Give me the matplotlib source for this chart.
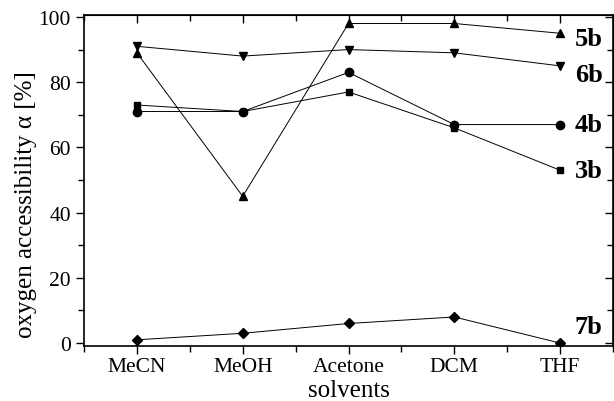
"""
Oxygen accessibility per solvent
"""
import matplotlib
matplotlib.use("Agg")
import matplotlib.pyplot as plt
from matplotlib.ticker import MultipleLocator

solvents = ["MeCN", "MeOH", "Acetone", "DCM", "THF"]
series_names = ["5b", "6b", "4b", "3b", "7b"]
vals_5b = [89, 45, 98, 98, 95]
vals_6b = [91, 88, 90, 89, 85]
vals_4b = [71, 71, 83, 67, 67]
vals_3b = [73, 71, 77, 66, 53]
vals_7b = [1, 3, 6, 8, 0]

plt.rcParams['font.family'] = ['Liberation Serif', 'DejaVu Serif']

fig = plt.figure(figsize=(6.14, 4.02), dpi=100)
ax = fig.add_axes([84 / 614, 55 / 402, 529 / 614, 331 / 402])

x = list(range(len(solvents)))
styles = [("^", 6), ("v", 6), ("o", 6), ("s", 5), ("D", 5)]
all_vals = [vals_5b, vals_6b, vals_4b, vals_3b, vals_7b]
label_y = [93.5, 82.5, 67, 53, 5]

for vals, (mk, ms), name, ly in zip(all_vals, styles, series_names, label_y):
    ax.plot(x, vals, color='black', linewidth=0.7, marker=mk, markersize=ms)
    ax.text(4.14, ly, name, fontsize=19, fontweight='bold', va='center', ha='left')

ax.set_xlim(-0.5, 4.5)
ax.set_ylim(-0.9, 100.6)
ax.set_xticks(x)
ax.set_xticklabels(solvents)
ax.xaxis.set_minor_locator(MultipleLocator(0.5))
ax.yaxis.set_major_locator(MultipleLocator(20))
ax.yaxis.set_minor_locator(MultipleLocator(10))

for side in ['left', 'bottom', 'top', 'right']:
    ax.spines[side].set_linewidth(1.2)

ax.tick_params(axis='both', which='both', labelsize=15.5, width=1.0)
ax.tick_params(axis='both', which='major', length=6)
ax.tick_params(axis='both', which='minor', length=4)
ax.tick_params(axis='x', which='both', direction='out', top=False, pad=2)
ax.tick_params(axis='y', which='both', direction='out', right=False)

# inward ticks on top and right via secondary axes
ax_top = ax.secondary_xaxis('top')
ax_top.set_xticks(x)
ax_top.xaxis.set_minor_locator(MultipleLocator(0.5))
ax_top.tick_params(which='both', direction='in', labeltop=False, width=1.0)
ax_top.tick_params(which='major', length=6)
ax_top.tick_params(which='minor', length=4)

ax_right = ax.secondary_yaxis('right')
ax_right.yaxis.set_major_locator(MultipleLocator(20))
ax_right.yaxis.set_minor_locator(MultipleLocator(10))
ax_right.tick_params(which='both', direction='in', labelright=False, width=1.0)
ax_right.tick_params(which='major', length=6)
ax_right.tick_params(which='minor', length=4)

ax.set_xlabel('solvents', fontsize=18)
ax.set_ylabel('oxygen accessibility α [%]', fontsize=18)
ax.xaxis.set_label_coords(0.5, -0.1)
ax.yaxis.set_label_coords(-0.089, 0.43)

plt.savefig("out.png", dpi=100)
